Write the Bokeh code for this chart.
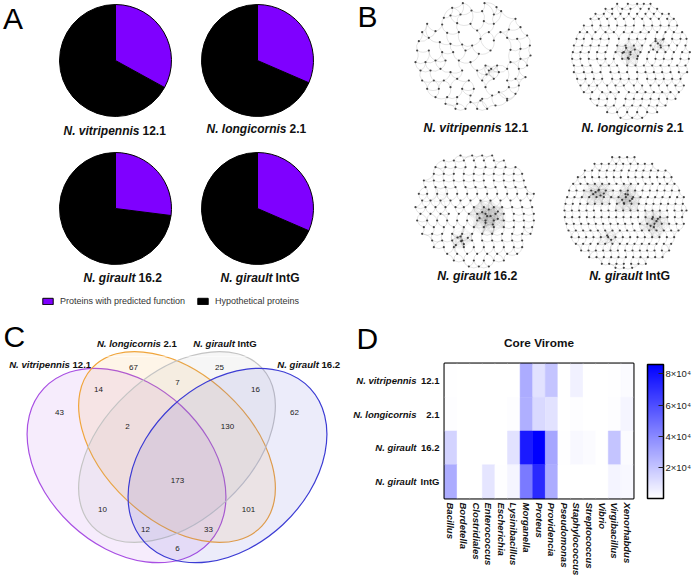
import numpy as np
from bokeh.plotting import figure
from bokeh.layouts import column, row
from bokeh.models import (Range1d, FactorRange, ColumnDataSource, LinearColorMapper, ColorBar,
                          FixedTicker, Legend, LegendItem, CategoricalAxis, CustomJSTickFormatter)
from bokeh.core.properties import value
from bokeh.embed import file_html
from bokeh.resources import INLINE

FONT = "Liberation Sans"

# ------------------------------------------------------------------ data
species = ["N. vitripennis", "N. longicornis", "N. girault", "N. girault"]
strains = ["12.1", "2.1", "16.2", "IntG"]

# panel A: share of proteins with a predicted function
predicted_function_share = [0.330, 0.315, 0.270, 0.315]
protein_classes = ["Proteins with predicted function", "Hypothetical proteins"]

# panel C: Venn (V = vitripennis 12.1, L = longicornis 2.1, I = girault IntG, G = girault 16.2)
venn_set_species = ["N. vitripennis", "N. longicornis", "N. girault", "N. girault"]
venn_set_strains = ["12.1", "2.1", "IntG", "16.2"]
venn_regions = ["V", "L", "I", "G", "VL", "LI", "IG", "VLI", "LIG", "VLIG", "VI", "LG", "VIG", "VLG", "VG"]
venn_counts = [43, 67, 25, 62, 14, 7, 16, 2, 130, 173, 10, 101, 12, 33, 6]

# panel D: core virome heatmap
heatmap_title = "Core Virome"
genera = ["Bacillus", "Bordetella", "Clostridiales", "Enterococcus", "Escherichia", "Lysinibacillus",
          "Morganella", "Proteus", "Providencia", "Pseudomonas", "Staphylococcus", "Streptococcus",
          "Vibrio", "Virgibacillus", "Xenorhabdus"]
virome_vitripennis_12_1 = [500, 0, 0, 0, 0, 300, 28000, 10000, 20000, 0, 5000, 0, 0, 500, 1500]
virome_longicornis_2_1 = [1000, 0, 0, 0, 0, 800, 27000, 13000, 10000, 0, 800, 0, 0, 1000, 3500]
virome_girault_16_2 = [15000, 0, 0, 0, 0, 10000, 77000, 86000, 30000, 500, 2500, 1500, 0, 20000, 1500]
virome_girault_IntG = [28000, 0, 0, 9000, 500, 3500, 45000, 72000, 28000, 0, 0, 0, 0, 4000, 2500]
colorbar_ticks = [20000, 40000, 60000, 80000]
colorbar_tick_labels = ["2×10⁴", "4×10⁴", "6×10⁴", "8×10⁴"]

# panel B: protein-similarity networks (node layouts)
net_vitripennis_nodes = """157,8 222,8 125,22 258,20 183,30 215,32 150,42 250,42 272,32 100,52 120,45
50,70 95,72 140,68 180,70 220,62 250,70 315,55 330,80 35,95 75,92 110,97 145,95 200,90 235,95 270,95
295,87 25,122 55,112 88,125 120,130 155,132 185,135 210,115 250,120 290,112 320,115 350,105 20,150
55,150 95,155 128,155 165,150 205,160 240,150 300,148 330,145 358,135 15,185 45,185 75,180 105,180
145,180 180,185 225,195 260,195 300,185 330,175 360,165 30,210 60,210 90,205 120,215 155,210 200,210
235,210 265,215 290,205 325,205 350,195 35,240 70,240 100,240 140,235 175,240 215,240 250,235 290,240
315,235 345,230 50,265 85,265 120,260 155,265 190,265 225,260 265,275 295,260 325,255 75,290 110,290
140,290 180,285 215,295 245,285 290,295 315,280 105,310 140,310 180,305 210,300 255,315 290,300
135,325 165,325 200,325 230,325 228,222 242,205"""

net_longicornis_rows = """
10: 230 262 290 310 330
25: 195 215 245 270 300 325 350
40: 165 190 215 240 265 290 315 340 365 385
55: 150 175 200 225 250 280 305 330 355 380 400
75: 130 155 180 205 230 255 280 310 335 360 385 410
95: 118 140 165 195 220 250 275 300 325 350 375 400 425
115: 108 130 155 180 205 235 265 290 315 345 370 395 420 438
135: 100 125 150 175 200 230 255 280 305 330 360 385 410 435
155: 97 120 145 170 195 225 250 270 300 325 350 375 400 425 448
175: 95 120 145 170 195 220 245 265 290 320 345 370 395 420 445
195: 100 125 150 180 205 230 260 285 310 335 360 385 410 435
215: 100 130 155 180 210 235 260 290 315 340 365 390 415 440
235: 110 135 160 185 215 240 265 290 320 345 370 395 420
255: 120 145 170 200 225 250 280 305 330 355 380 405 430
275: 130 155 185 210 235 265 290 315 340 365 390 415
295: 150 175 200 225 255 280 305 330 355 380 405
315: 170 195 220 250 275 300 325 350 375
335: 200 230 260 290 320 350
352: 240 275 305
"""
net_longicornis_extra = "257,142 270,162 283,147 262,172 246,157 292,167 345,122 361,141 338,147 367,117 352,129"

net_girault_16_2_rows = """
15: 150 185 215 245
30: 100 130 160 190 220 250 280
50: 75 105 135 165 195 225 255 285 315
70: 70 100 130 160 190 220 250 280 310 335
90: 40 70 100 130 160 190 220 250 280 310 340
110: 45 75 105 135 165 195 225 255 285 315 345
130: 25 50 80 110 140 170 200 230 260 290 320 350 370
150: 35 60 90 120 150 180 210 240 270 300 330 360
170: 15 45 75 105 135 160 190 220 250 275 305 335 365
190: 30 60 90 115 145 175 200 225 255 280 310 340 370
210: 20 50 80 110 140 170 200 225 250 280 310 340 370
230: 40 70 100 130 160 190 220 250 280 310 340 365
250: 35 65 95 125 155 185 215 245 275 305 335 360
270: 65 95 125 155 185 215 245 275 305 335
290: 70 100 130 160 190 220 250 280 310 335
310: 110 140 170 200 230 260 290 320
330: 130 160 190 220 250 280
348: 175 205 235
"""
net_girault_16_2_extra = ("215,185 240,197 225,217 262,205 235,177 207,203 262,183 247,222 230,197 "
                          "141,261 160,281 150,258 136,284 172,262 152,272")

net_girault_IntG_rows = """
20: 215 237 260 282
40: 162 183 205 227 248 270 292 313 335
60: 133 155 177 199 221 243 265 287 309 331 353 375
80: 112 133 155 176 198 220 241 263 285 306 328 350 371 393
100: 98 120 141 163 185 206 228 250 271 293 315 336 358 380 402
120: 86 108 130 152 174 196 218 240 262 284 306 328 350 372 394 416
140: 80 102 124 146 168 190 212 234 256 278 300 322 344 366 388 410 430
160: 75 97 119 141 163 185 207 229 251 273 295 317 339 361 383 405 427
180: 72 94 116 138 160 182 204 226 248 270 292 314 336 358 380 402 424 438
200: 73 95 117 139 161 183 205 227 249 271 293 315 337 359 381 403 425
220: 78 100 122 144 166 188 210 232 254 276 298 320 342 364 386 408 430
240: 84 106 128 150 172 194 216 238 260 282 304 326 348 370 392 414
260: 93 115 137 159 181 203 225 247 269 291 313 335 357 379 401
280: 106 128 150 172 194 216 238 260 282 304 326 348 370 392
300: 122 144 166 188 210 232 254 276 298 320 342 364 386
320: 146 168 190 212 234 256 278 300 322 344 366
340: 184 206 228 250 272 294 316
352: 225 250 275
"""
net_girault_IntG_extra = ("165,125 180,135 158,131 175,118 190,129 255,131 268,151 250,158 262,132 "
                          "275,145 245,148 335,205 348,212 330,226 352,205 340,230 200,255 212,268")


# ------------------------------------------------------------------ helpers
def no_align(p):
    try:
        p.frame_align = False
    except Exception:
        pass
    return p


def plain(w, h, x0, x1, y0, y1):
    p = figure(width=w, height=h, x_range=Range1d(x0, x1), y_range=Range1d(-y1, -y0),
               output_backend="svg", toolbar_location=None, tools="",
               x_axis_location=None, y_axis_location=None, min_border=0,
               outline_line_color=None, background_fill_color="white", border_fill_color="white")
    p.xgrid.visible = False
    p.ygrid.visible = False
    return no_align(p)


def two_part(p, ital, norm, num_left, ys, size, gap):
    s1 = ColumnDataSource(dict(x=[v - gap for v in num_left], y=[-v for v in ys], t=ital))
    s2 = ColumnDataSource(dict(x=num_left, y=[-v for v in ys], t=norm))
    p.text(x="x", y="y", text="t", source=s1, text_align="right", text_baseline="middle",
           text_font=value(FONT), text_font_style="bold italic", text_font_size=size, text_color="#111111")
    p.text(x="x", y="y", text="t", source=s2, text_align="left", text_baseline="middle",
           text_font=value(FONT), text_font_style="bold", text_font_size=size, text_color="#111111")


def letter(p, ch, x, y_mid):
    p.text(x=[x], y=[-y_mid], text=[ch], text_align="left", text_baseline="middle",
           text_font=value(FONT), text_font_size="30px", text_color="black")


def rows_to_pts(txt):
    pts = []
    for line in txt.strip().splitlines():
        yv, xs = line.split(":")
        for xv in xs.split():
            pts.append((float(xv), float(yv)))
    return pts


def pairs(txt):
    return [tuple(float(c) for c in t.split(",")) for t in txt.split()]


def draw_network(p, pts, ox, oy, k, clusters):
    uniq = []
    for q in pts:
        if q not in uniq:
            uniq.append(q)
    pts = uniq
    P = np.array(pts)
    n = len(P)
    D = np.sqrt(((P[:, None, :] - P[None, :, :]) ** 2).sum(-1))
    np.fill_diagonal(D, np.inf)
    edges = set()
    for i in range(n):
        for j in np.argsort(D[i])[:k]:
            edges.add((min(i, int(j)), max(i, int(j))))
    cl_edges = set()
    for (cx, cy, r) in clusters:
        idx = [i for i in range(n) if np.hypot(P[i, 0] - cx, P[i, 1] - cy) <= r]
        for a in range(len(idx)):
            for b in range(a + 1, len(idx)):
                i, j = idx[a], idx[b]
                if D[i, j] <= r * 1.5:
                    cl_edges.add((i, j))

    def curves(es, bend):
        x0, y0, x1, y1, cxs, cys = [], [], [], [], [], []
        for (i, j) in sorted(es):
            a, b = P[i], P[j]
            d = b - a
            L = np.hypot(*d)
            if L == 0:
                continue
            perp = np.array([-d[1], d[0]]) / L
            sgn = 1 if (i + j) % 2 else -1
            c = (a + b) / 2 + perp * L * bend * sgn
            x0.append(ox + a[0] / 3); y0.append(-(oy + a[1] / 3))
            x1.append(ox + b[0] / 3); y1.append(-(oy + b[1] / 3))
            cxs.append(ox + c[0] / 3); cys.append(-(oy + c[1] / 3))
        return dict(x0=x0, y0=y0, x1=x1, y1=y1, cx=cxs, cy=cys)

    p.quadratic(source=ColumnDataSource(curves(edges, 0.3)), x0="x0", y0="y0", x1="x1", y1="y1",
                cx="cx", cy="cy", line_color="#8a8a8a", line_alpha=0.38, line_width=0.6)
    if cl_edges:
        p.quadratic(source=ColumnDataSource(curves(cl_edges, 0.25)), x0="x0", y0="y0", x1="x1", y1="y1",
                    cx="cx", cy="cy", line_color="#808080", line_alpha=0.12, line_width=0.5)
    p.scatter(x=[ox + v[0] / 3 for v in pts], y=[-(oy + v[1] / 3) for v in pts], size=2.2,
              fill_color="#333333", line_color=None, fill_alpha=0.9)


def draw_venn(p):
    ang = np.deg2rad(43)
    p.ellipse(x=[126, 176.5, 176.5, 227], y=[-465, -446.5, -446.5, -465],
              width=[226, 232, 232, 226], height=[162, 146, 146, 162],
              angle=[-ang, -ang, ang, ang],
              fill_color=["#B366E6", "#F5B041", "#A8A8A8", "#5050D0"],
              fill_alpha=[0.12, 0.12, 0.10, 0.11],
              line_color=["#A84FE3", "#F0A53C", "#C4C4C4", "#3C3CD4"], line_width=1.2)


SPLIT = 356          # page row split (px)
W_LEFT, W_RIGHT = 350, 345
H_TOP, H_BOT = SPLIT, 583 - SPLIT

# ------------------------------------------------------------------ panel A (+ letter C, top of Venn)
pA = plain(W_LEFT, H_TOP, 0, W_LEFT, 0, H_TOP)
pie_x = [115, 257, 115, 257]
pie_y = [-60, -60, -208, -208]
top = np.pi / 2
ends = [top - 2 * np.pi * f for f in predicted_function_share]
r_hyp = pA.wedge(x=pie_x, y=pie_y, radius=56, start_angle=top, end_angle=ends, direction="anticlock",
                 fill_color="black", line_color="black", line_width=1)
r_pred = pA.wedge(x=pie_x, y=pie_y, radius=56, start_angle=ends, end_angle=top, direction="anticlock",
                  fill_color="#7F00FF", line_color="black", line_width=1)
two_part(pA, species, strains, [142, 289, 138, 275], [130, 128, 277, 277], "12px", 3)
letter(pA, "A", 2.5, 18)
letter(pA, "C", 3, 336)
draw_venn(pA)
two_part(pA, venn_set_species[1:3], venn_set_strains[1:3], [163, 237], [343, 343], "9.6px", 2.6)
leg = Legend(items=[LegendItem(label=protein_classes[0], renderers=[r_pred]),
                    LegendItem(label=protein_classes[1], renderers=[r_hyp])],
             orientation="horizontal", location=(41, 50), glyph_width=13, glyph_height=8,
             label_height=8, label_standoff=6, spacing=11, padding=0, margin=0,
             border_line_color=None, background_fill_alpha=0,
             label_text_font=FONT, label_text_font_size="9px", label_text_color="#333333")
pA.add_layout(leg)

# ------------------------------------------------------------------ panel B (+ letter D, heatmap title)
pB = plain(W_RIGHT, H_TOP, 350, 350 + W_RIGHT, 0, H_TOP)
draw_network(pB, pairs(net_vitripennis_nodes), 410, 0, 3, [(235, 215, 35)])
draw_network(pB, rows_to_pts(net_longicornis_rows) + pairs(net_longicornis_extra), 540, 0, 3,
             [(265, 155, 45), (352, 130, 35)])
draw_network(pB, rows_to_pts(net_girault_16_2_rows) + pairs(net_girault_16_2_extra), 410, 150, 3,
             [(232, 200, 62), (152, 268, 40), (90, 140, 35)])
draw_network(pB, rows_to_pts(net_girault_IntG_rows) + pairs(net_girault_IntG_extra), 540, 150, 3,
             [(172, 130, 50), (262, 148, 52), (342, 215, 48), (205, 262, 40)])
two_part(pB, species, strains, [504, 666, 493, 645], [127, 127, 275, 275], "12.3px", 3)
letter(pB, "B", 357, 16)
letter(pB, "D", 356, 337.5)
pB.text(x=[538.5], y=[-342], text=[heatmap_title], text_align="center", text_baseline="middle",
        text_font=value(FONT), text_font_style="bold", text_font_size="11.8px", text_color="#111111")

# ------------------------------------------------------------------ panel C
pC = plain(W_LEFT, H_BOT, 0, W_LEFT, SPLIT, 583)
draw_venn(pC)
VENN_POS = {"V": (59, 412), "L": (133, 367), "I": (219, 367), "G": (294, 412), "VL": (98, 389),
            "LI": (177, 382), "IG": (255, 389), "VLI": (127, 426), "LIG": (227, 426), "VLIG": (177, 480),
            "VI": (102, 509), "LG": (248, 509), "VIG": (145, 529), "VLG": (208, 529), "VG": (177, 548)}
pC.text(x=[VENN_POS[r][0] for r in venn_regions], y=[-VENN_POS[r][1] for r in venn_regions],
        text=[str(c) for c in venn_counts], text_align="center", text_baseline="middle",
        text_font=value(FONT), text_font_size="8px", text_color="#222222")
two_part(pC, [venn_set_species[0], venn_set_species[3]], [venn_set_strains[0], venn_set_strains[3]],
         [72, 321], [364, 364], "9.6px", 2.6)

# ------------------------------------------------------------------ panel D
palette = [f"#{v:02x}{v:02x}ff" for v in range(255, -1, -1)]
mapper = LinearColorMapper(palette=palette, low=0, high=86000)
rows_data = [virome_vitripennis_12_1, virome_longicornis_2_1, virome_girault_16_2, virome_girault_IntG]
hx, hy, hv = [], [], []
for s, vals in zip(strains, rows_data):
    for gen, v in zip(genera, vals):
        hx.append(gen); hy.append(s); hv.append(v)

FRAME_L, FRAME_T, FRAME_W, FRAME_H = 94, 363 - SPLIT, 189, 135
pD = figure(width=W_RIGHT, height=H_BOT, x_range=FactorRange(factors=genera),
            y_range=FactorRange(factors=strains[::-1]), output_backend="svg",
            toolbar_location=None, tools="",
            min_border_left=FRAME_L, min_border_right=W_RIGHT - FRAME_L - FRAME_W,
            min_border_top=FRAME_T, min_border_bottom=H_BOT - FRAME_T - FRAME_H,
            background_fill_color="white", border_fill_color="white")
no_align(pD)
pD.rect(x="g", y="r", width=1, height=1, source=ColumnDataSource(dict(g=hx, r=hy, v=hv)),
        fill_color={"field": "v", "transform": mapper},
        line_color={"field": "v", "transform": mapper}, line_width=0.5)
pD.grid.visible = False
pD.outline_line_color = "black"
pD.outline_line_width = 2


def bare_axis(a, style, standoff):
    a.major_label_text_font = FONT
    a.major_label_text_font_style = style
    a.major_label_text_font_size = "9.5px"
    a.major_label_text_color = "#111111"
    a.major_label_standoff = standoff
    a.major_tick_line_color = None
    a.minor_tick_line_color = None
    a.major_tick_out = 0
    a.major_tick_in = 0
    a.minor_tick_out = 0
    a.minor_tick_in = 0
    a.axis_line_color = None


ax = pD.xaxis[0]
ax.major_label_orientation = "vertical"
bare_axis(ax, "bold italic", 4)

# row labels: strain (bold) next to the frame, species (bold italic) further out
bare_axis(pD.yaxis[0], "bold", 5)
species_fmt = CustomJSTickFormatter(args=dict(keys=strains, names=species),
                                    code="const i = keys.indexOf(tick); return i >= 0 ? names[i] : '';")
yax2 = CategoricalAxis(formatter=species_fmt)
bare_axis(yax2, "bold italic", 1)
pD.add_layout(yax2, "left")

cb = ColorBar(color_mapper=mapper, ticker=FixedTicker(ticks=colorbar_ticks),
              major_label_overrides=dict(zip(colorbar_ticks, colorbar_tick_labels)),
              width=16, height=134, location=(FRAME_W + 14, 0), margin=0, padding=0,
              bar_line_color="black", bar_line_width=1.5, major_tick_in=5, major_tick_out=0,
              major_tick_line_color="#222222", minor_tick_line_color=None, label_standoff=2,
              major_label_text_font=FONT, major_label_text_font_size="9.5px",
              major_label_text_color="#222222", border_line_color=None, background_fill_alpha=0)
pD.add_layout(cb)

layout = column(row(pA, pB), row(pC, pD))
with open("out.html", "w") as fh:
    fh.write(file_html(layout, INLINE))
